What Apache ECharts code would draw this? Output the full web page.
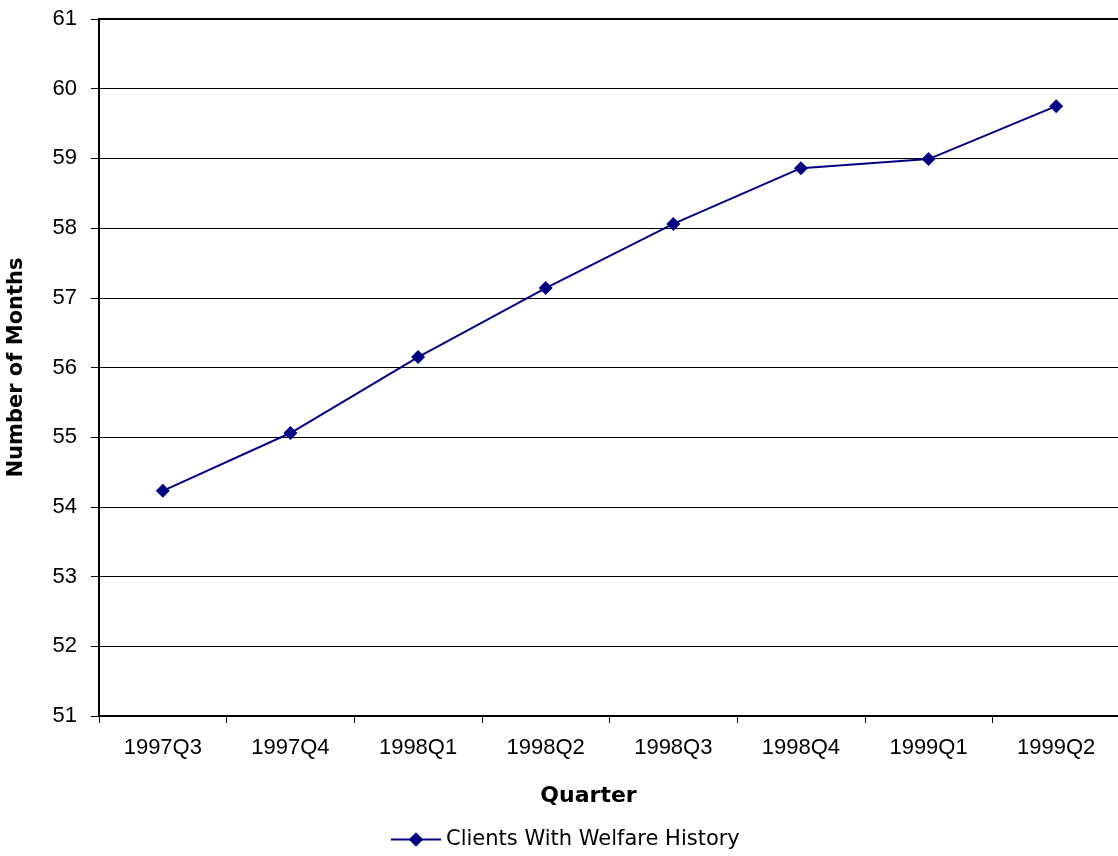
<!DOCTYPE html>
<html>
<head>
<meta charset="utf-8">
<script src="https://cdn.jsdelivr.net/npm/echarts@6/dist/echarts.min.js"></script>
<style>
  html, body { margin: 0; padding: 0; background: #fff; }
  #chart { width: 1118px; height: 856px; }
</style>
</head>
<body>
<div id="chart"></div>
<script>
var quarters = ['1997Q3', '1997Q4', '1998Q1', '1998Q2', '1998Q3', '1998Q4', '1999Q1', '1999Q2'];
var welfareMonths = [54.23, 55.06, 56.15, 57.14, 58.06, 58.86, 58.99, 59.75];

var myChart = echarts.init(document.getElementById('chart'));
var option = {
    backgroundColor: '#fff',
    textStyle: { fontFamily: '"Liberation Sans", Arial, sans-serif' },
    grid: {
        left: 99, right: -2, top: 19, bottom: 140,
        outerBoundsMode: 'none',
        containLabel: false,
        show: true, borderColor: '#000', borderWidth: 2
    },
    legend: {
        top: 824,
        left: 385,
        itemWidth: 50,
        itemHeight: 18,
        itemGap: 5,
        textStyle: { fontSize: 21, color: '#000', fontFamily: 'DejaVu Sans' },
        data: ['Clients With Welfare History']
    },
    xAxis: {
        type: 'category',
        data: quarters,
        boundaryGap: true,
        name: 'Quarter',
        nameLocation: 'middle',
        nameGap: 69,
        nameTextStyle: { fontSize: 22, fontWeight: 'bold', color: '#000', fontFamily: 'DejaVu Sans', padding: [0, 42, 0, 0] },
        axisLine: { lineStyle: { color: '#000', width: 2 } },
        axisTick: { show: true, alignWithLabel: false, length: 7, lineStyle: { color: '#000' } },
        axisLabel: { fontSize: 22, color: '#000', margin: 21, fontFamily: '"Liberation Sans", Arial, sans-serif' }
    },
    yAxis: {
        type: 'value',
        min: 51, max: 61, interval: 1,
        name: 'Number of Months',
        nameLocation: 'middle',
        nameGap: 72,
        nameTextStyle: { fontSize: 21, fontWeight: 'bold', color: '#000', fontFamily: 'DejaVu Sans' },
        axisLine: { show: true, lineStyle: { color: '#000', width: 2 } },
        axisTick: { show: true, length: 8, lineStyle: { color: '#000' } },
        axisLabel: { fontSize: 22, color: '#000', margin: 22, fontFamily: '"Liberation Sans", Arial, sans-serif' },
        splitLine: { show: true, lineStyle: { color: '#000', width: 1 } }
    },
    series: [{
        name: 'Clients With Welfare History',
        type: 'line',
        data: welfareMonths,
        symbol: 'diamond',
        symbolSize: 14,
        color: '#000080',
        lineStyle: { color: '#000080', width: 2 },
        itemStyle: { color: '#000080' },
        animation: false
    }]
};
myChart.setOption(option);
</script>
</body>
</html>
